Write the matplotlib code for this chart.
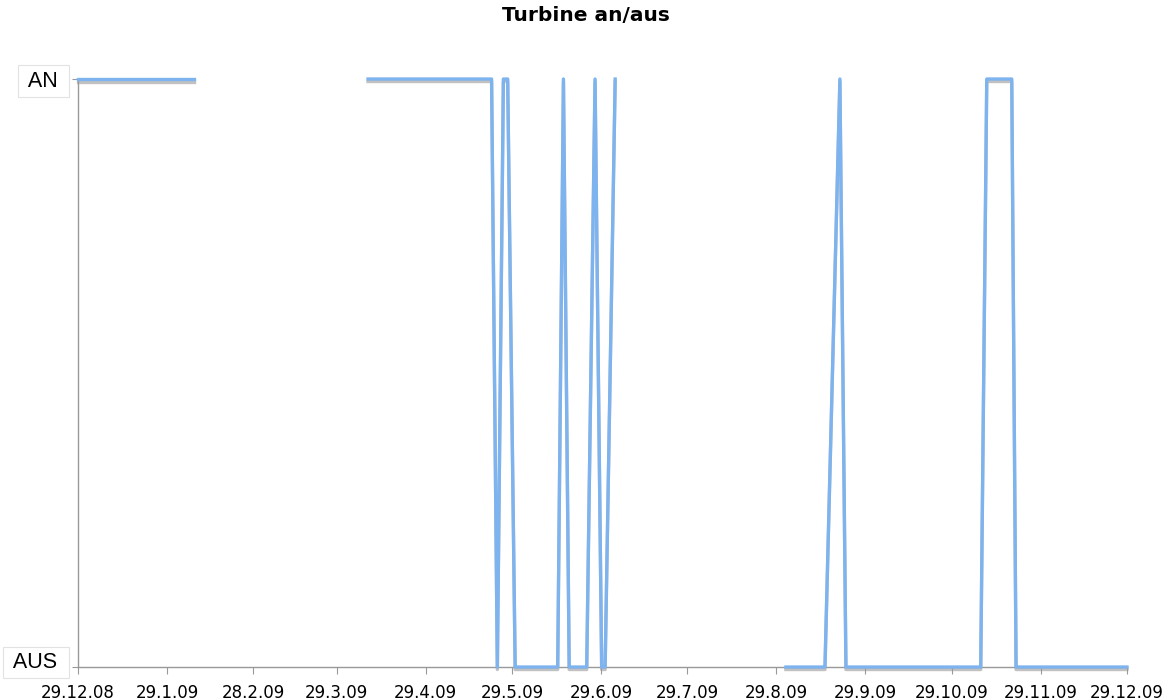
import numpy as np
import matplotlib
matplotlib.use("Agg")
import matplotlib.pyplot as plt
import matplotlib.patheffects as pe
from datetime import datetime

# days since 29.12.08, state 1 = AN, 0 = AUS (gaps between segments = no data)
seg1_days = [0, 40.4]
seg1_state = [1, 1]

seg2_days = [100.9, 143.9, 145.9, 148.0, 149.5, 152.1, 166.9, 168.9, 170.9,
             177.0, 179.9, 182.2, 183.4, 186.9]
seg2_state = [1, 1, 0, 1, 1, 0, 0, 1, 0, 0, 1, 0, 0, 1]

seg3_days = [246.3, 259.9, 265.1, 267.2, 314.1, 316.2, 324.9, 326.4, 365]
seg3_state = [0, 0, 1, 0, 0, 1, 1, 0, 0]

tick_labels = ["29.12.08", "29.1.09", "28.2.09", "29.3.09", "29.4.09", "29.5.09",
               "29.6.09", "29.7.09", "29.8.09", "29.9.09", "29.10.09", "29.11.09",
               "29.12.09"]
y_labels = ["AUS", "AN"]

start = datetime.strptime(tick_labels[0], "%d.%m.%y")
tick_days = [(datetime.strptime(t, "%d.%m.%y") - start).days for t in tick_labels]

fig = plt.figure(figsize=(11.72, 7), dpi=100)
ax = fig.add_axes([0.0666, 0.0471, 0.895, 0.84])

line_color = "#7db3ee"
shadow = [pe.SimpleLineShadow(offset=(0, -1.8), shadow_color="#999999", alpha=0.6),
          pe.Normal()]
for d, s in [(seg1_days, seg1_state), (seg2_days, seg2_state), (seg3_days, seg3_state)]:
    ax.plot(d, s, color=line_color, lw=2.4, clip_on=False, path_effects=shadow,
            solid_joinstyle="round", zorder=3)

ax.set_xlim(0, 365)
ax.set_ylim(0, 1)
ax.set_xticks(tick_days)
ax.set_xticklabels(tick_labels, fontsize=12, family="DejaVu Sans")
ax.set_yticks([0, 1])
ax.set_yticklabels([])

# boxed y labels
box = dict(facecolor="white", edgecolor="#e2e2e2", linewidth=0.8,
           boxstyle="square,pad=0.24")
for val, lab, dy in [(0, y_labels[0], 3.5), (1, y_labels[1], -1.5)]:
    ax.annotate(" " + lab + " ", xy=(0, val), xycoords=("axes fraction", "data"),
                xytext=(-10.5, dy), textcoords="offset points", ha="right",
                va="center", fontsize=15.5, family="Liberation Sans", bbox=box)

for side in ["top", "right"]:
    ax.spines[side].set_visible(False)
for side in ["left", "bottom"]:
    ax.spines[side].set_color("#999999")
    ax.spines[side].set_linewidth(1)
ax.tick_params(axis="x", colors="#999999", length=5, labelcolor="black", pad=7)
ax.tick_params(axis="y", colors="#999999", length=4)

fig.suptitle("Turbine an/aus", fontsize=14.5, fontweight="bold", y=0.992)

fig.savefig("out.png", dpi=100)
